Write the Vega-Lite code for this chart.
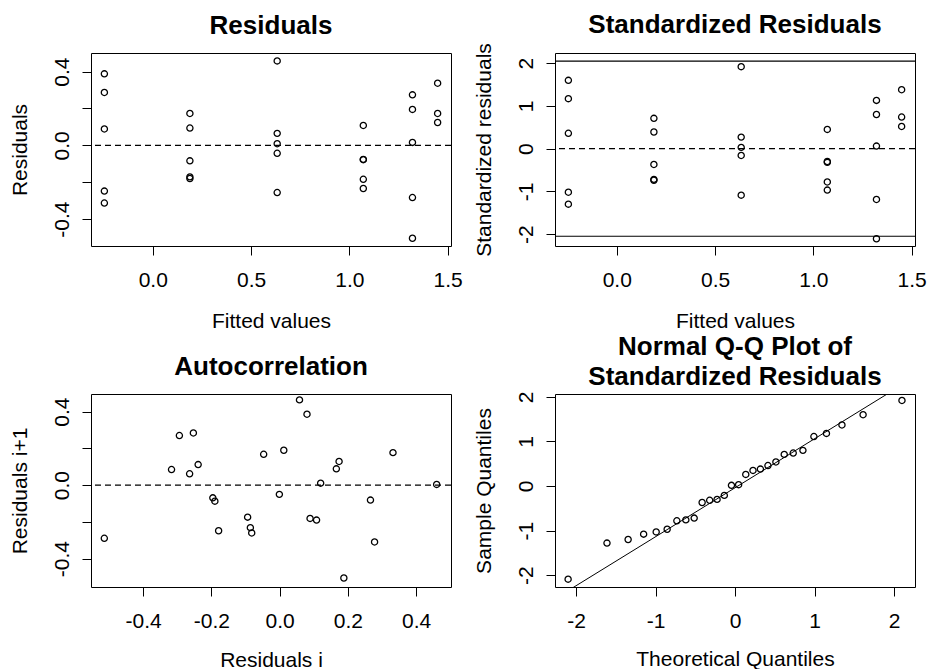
{
  "$schema": "https://vega.github.io/schema/vega-lite/v6.json",
  "background": "white",
  "padding": {"left": 8, "top": 11, "right": 0, "bottom": 0},
  "config": {
    "font": "Liberation Sans",
    "view": {"stroke": "black", "strokeWidth": 1},
    "axis": {
      "domain": false, "grid": false, "tickColor": "black", "tickSize": 9, "tickWidth": 1,
      "labelColor": "black", "labelFontSize": 21, "labelFont": "Liberation Sans",
      "titleColor": "black", "titleFontSize": 21, "titleFontWeight": "normal", "titleFont": "Liberation Sans",
      "labelFlush": false, "labelOverlap": false
    },
    "axisY": {
      "labelAngle": -90, "labelAlign": "center", "labelBaseline": "alphabetic", "labelPadding": 14,
      "titleX": -65, "titleY": 96.5, "titleBaseline": "alphabetic", "titleAlign": "center", "titleAngle": -90
    },
    "axisX": {
      "labelAngle": 0, "labelAlign": "center", "labelBaseline": "alphabetic", "labelPadding": 31,
      "titleX": 180, "titleY": 81, "titleBaseline": "alphabetic", "titleAlign": "center"
    },
    "title": {"fontSize": 26, "fontWeight": "bold", "color": "black", "font": "Liberation Sans", "anchor": "middle", "frame": "group", "baseline": "alphabetic", "offset": 14},
    "point": {"shape": "circle", "filled": false, "color": "black", "size": 38, "strokeWidth": 1.3, "opacity": 1}
  },
  "columns": 2,
  "spacing": {"row": 148, "column": 104},
  "bounds": "flush",
  "concat": [
    {
      "width": 360, "height": 193,
      "title": "Residuals",
      "layer": [
        {
          "data": {"values": [{"resid": 0}]},
          "mark": {"type": "rule", "color": "black", "strokeDash": [6, 4], "strokeWidth": 1.2},
          "encoding": {"y": {"field": "resid", "type": "quantitative"}}
        },
        {
          "data": {"values": [
            {"fitted": -0.246, "resid": 0.388}, {"fitted": -0.246, "resid": 0.287}, {"fitted": -0.246, "resid": 0.089}, {"fitted": -0.246, "resid": -0.248}, {"fitted": -0.246, "resid": -0.313},
            {"fitted": 0.189, "resid": 0.173}, {"fitted": 0.189, "resid": 0.094}, {"fitted": 0.189, "resid": -0.084}, {"fitted": 0.189, "resid": -0.171}, {"fitted": 0.189, "resid": -0.180},
            {"fitted": 0.633, "resid": 0.458}, {"fitted": 0.633, "resid": 0.065}, {"fitted": 0.633, "resid": 0.009}, {"fitted": 0.633, "resid": -0.043}, {"fitted": 0.633, "resid": -0.256},
            {"fitted": 1.071, "resid": 0.108}, {"fitted": 1.071, "resid": -0.076}, {"fitted": 1.071, "resid": -0.078}, {"fitted": 1.071, "resid": -0.184}, {"fitted": 1.071, "resid": -0.234},
            {"fitted": 1.321, "resid": 0.274}, {"fitted": 1.321, "resid": 0.195}, {"fitted": 1.321, "resid": 0.016}, {"fitted": 1.321, "resid": -0.283}, {"fitted": 1.321, "resid": -0.504},
            {"fitted": 1.449, "resid": 0.337}, {"fitted": 1.449, "resid": 0.173}, {"fitted": 1.449, "resid": 0.124}
          ]},
          "mark": "point",
          "encoding": {
            "x": {"field": "fitted", "type": "quantitative", "scale": {"domain": [-0.314, 1.517], "nice": false, "zero": false},
                  "axis": {"values": [0, 0.5, 1, 1.5], "format": ".1f", "title": "Fitted values"}},
            "y": {"field": "resid", "type": "quantitative", "scale": {"domain": [-0.546, 0.501], "nice": false, "zero": false},
                  "axis": {"values": [-0.4, -0.2, 0, 0.2, 0.4], "labelExpr": "abs(datum.value) > 0.3 ? '' + datum.value : (datum.value == 0 ? '0.0' : '')", "title": "Residuals"}}
          }
        }
      ]
    },
    {
      "width": 360, "height": 193,
      "title": {"text": "Standardized Residuals", "offset": 5},
      "layer": [
        {
          "data": {"values": [{"std": 0}]},
          "mark": {"type": "rule", "color": "black", "strokeDash": [6, 4], "strokeWidth": 1.2},
          "encoding": {"y": {"field": "std", "type": "quantitative"}}
        },
        {
          "data": {"values": [{"std": 2.052}, {"std": -2.052}]},
          "mark": {"type": "rule", "color": "black", "strokeWidth": 1.2},
          "encoding": {"y": {"field": "std", "type": "quantitative"}}
        },
        {
          "data": {"values": [
            {"fitted": -0.246, "std": 1.60}, {"fitted": -0.246, "std": 1.17}, {"fitted": -0.246, "std": 0.36}, {"fitted": -0.246, "std": -1.02}, {"fitted": -0.246, "std": -1.30},
            {"fitted": 0.189, "std": 0.71}, {"fitted": 0.189, "std": 0.39}, {"fitted": 0.189, "std": -0.37}, {"fitted": 0.189, "std": -0.72}, {"fitted": 0.189, "std": -0.74},
            {"fitted": 0.633, "std": 1.92}, {"fitted": 0.633, "std": 0.27}, {"fitted": 0.633, "std": 0.03}, {"fitted": 0.633, "std": -0.16}, {"fitted": 0.633, "std": -1.09},
            {"fitted": 1.071, "std": 0.45}, {"fitted": 1.071, "std": -0.32}, {"fitted": 1.071, "std": -0.30}, {"fitted": 1.071, "std": -0.78}, {"fitted": 1.071, "std": -0.97},
            {"fitted": 1.321, "std": 1.13}, {"fitted": 1.321, "std": 0.80}, {"fitted": 1.321, "std": 0.06}, {"fitted": 1.321, "std": -1.19}, {"fitted": 1.321, "std": -2.11},
            {"fitted": 1.449, "std": 1.38}, {"fitted": 1.449, "std": 0.74}, {"fitted": 1.449, "std": 0.52}
          ]},
          "mark": "point",
          "encoding": {
            "x": {"field": "fitted", "type": "quantitative", "scale": {"domain": [-0.314, 1.517], "nice": false, "zero": false},
                  "axis": {"values": [0, 0.5, 1, 1.5], "format": ".1f", "title": "Fitted values"}},
            "y": {"field": "std", "type": "quantitative", "scale": {"domain": [-2.28, 2.24], "nice": false, "zero": false},
                  "axis": {"values": [-2, -1, 0, 1, 2], "labelExpr": "'' + datum.value", "title": "Standardized residuals"}}
          }
        }
      ]
    },
    {
      "width": 360, "height": 193,
      "title": "Autocorrelation",
      "layer": [
        {
          "data": {"values": [{"next": 0}]},
          "mark": {"type": "rule", "color": "black", "strokeDash": [6, 4], "strokeWidth": 1.2},
          "encoding": {"y": {"field": "next", "type": "quantitative"}}
        },
        {
          "data": {"values": [
            {"cur": -0.514, "next": -0.289}, {"cur": -0.317, "next": 0.085}, {"cur": -0.294, "next": 0.270}, {"cur": -0.264, "next": 0.062},
            {"cur": -0.253, "next": 0.284}, {"cur": -0.239, "next": 0.112}, {"cur": -0.196, "next": -0.069}, {"cur": -0.190, "next": -0.087},
            {"cur": -0.179, "next": -0.248}, {"cur": -0.094, "next": -0.174}, {"cur": -0.086, "next": -0.231}, {"cur": -0.082, "next": -0.260},
            {"cur": -0.047, "next": 0.168}, {"cur": -0.001, "next": -0.050}, {"cur": 0.012, "next": 0.190}, {"cur": 0.058, "next": 0.464},
            {"cur": 0.080, "next": 0.386}, {"cur": 0.089, "next": -0.181}, {"cur": 0.108, "next": -0.190}, {"cur": 0.120, "next": 0.011},
            {"cur": 0.166, "next": 0.089}, {"cur": 0.174, "next": 0.129}, {"cur": 0.188, "next": -0.505}, {"cur": 0.266, "next": -0.081},
            {"cur": 0.278, "next": -0.309}, {"cur": 0.332, "next": 0.177}, {"cur": 0.460, "next": 0.004}
          ]},
          "mark": "point",
          "encoding": {
            "x": {"field": "cur", "type": "quantitative", "scale": {"domain": [-0.553, 0.502], "nice": false, "zero": false},
                  "axis": {"values": [-0.4, -0.2, 0, 0.2, 0.4], "labelExpr": "datum.value == 0 ? '0.0' : '' + datum.value", "title": "Residuals i", "titleY": 79}},
            "y": {"field": "next", "type": "quantitative", "scale": {"domain": [-0.554, 0.496], "nice": false, "zero": false},
                  "axis": {"values": [-0.4, -0.2, 0, 0.2, 0.4], "labelExpr": "abs(datum.value) > 0.3 ? '' + datum.value : (datum.value == 0 ? '0.0' : '')", "title": "Residuals i+1"}}
          }
        }
      ]
    },
    {
      "width": 360, "height": 193,
      "title": {"text": ["Normal Q-Q Plot of", "Standardized Residuals"], "lineHeight": 30, "baseline": "bottom", "offset": 3, "dy": 28},
      "layer": [
        {
          "data": {"values": [{"theo": -2.4, "sample": -2.677}, {"theo": 2.4, "sample": 2.599}]},
          "mark": {"type": "line", "color": "black", "strokeWidth": 1, "clip": true},
          "encoding": {
            "x": {"field": "theo", "type": "quantitative"},
            "y": {"field": "sample", "type": "quantitative"}
          }
        },
        {
          "data": {"values": [
            {"theo": -2.100, "sample": -2.09}, {"theo": -1.611, "sample": -1.28}, {"theo": -1.345, "sample": -1.20}, {"theo": -1.150, "sample": -1.08},
            {"theo": -0.992, "sample": -1.03}, {"theo": -0.854, "sample": -0.97}, {"theo": -0.732, "sample": -0.78}, {"theo": -0.619, "sample": -0.76},
            {"theo": -0.514, "sample": -0.72}, {"theo": -0.414, "sample": -0.37}, {"theo": -0.319, "sample": -0.32}, {"theo": -0.226, "sample": -0.30},
            {"theo": -0.135, "sample": -0.21}, {"theo": -0.045, "sample": 0.015}, {"theo": 0.045, "sample": 0.03}, {"theo": 0.135, "sample": 0.26},
            {"theo": 0.226, "sample": 0.35}, {"theo": 0.319, "sample": 0.38}, {"theo": 0.414, "sample": 0.46}, {"theo": 0.514, "sample": 0.54},
            {"theo": 0.619, "sample": 0.71}, {"theo": 0.732, "sample": 0.74}, {"theo": 0.854, "sample": 0.80}, {"theo": 0.992, "sample": 1.11},
            {"theo": 1.150, "sample": 1.18}, {"theo": 1.345, "sample": 1.37}, {"theo": 1.611, "sample": 1.60}, {"theo": 2.100, "sample": 1.92}
          ]},
          "mark": "point",
          "encoding": {
            "x": {"field": "theo", "type": "quantitative", "scale": {"domain": [-2.265, 2.264], "nice": false, "zero": false},
                  "axis": {"values": [-2, -1, 0, 1, 2], "labelExpr": "'' + datum.value", "title": "Theoretical Quantiles", "titleY": 78}},
            "y": {"field": "sample", "type": "quantitative", "scale": {"domain": [-2.266, 2.065], "nice": false, "zero": false},
                  "axis": {"values": [-2, -1, 0, 1, 2], "labelExpr": "'' + datum.value", "title": "Sample Quantiles"}}
          }
        }
      ]
    }
  ]
}
